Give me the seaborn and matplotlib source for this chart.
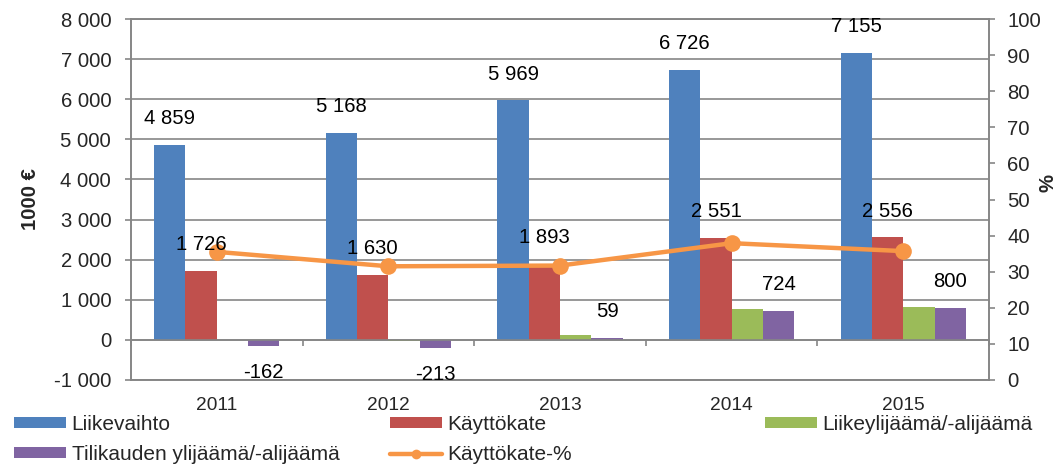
import numpy as np
import pandas as pd
import seaborn as sns
import matplotlib.pyplot as plt
from matplotlib.lines import Line2D
from matplotlib.patches import Patch

years = ["2011", "2012", "2013", "2014", "2015"]
liikevaihto = [4859, 5168, 5969, 6726, 7155]
kayttokate = [1726, 1630, 1893, 2551, 2556]
liikeylijaama = [-10, -40, 110, 770, 820]
tilikauden = [-162, -213, 59, 724, 800]
kayttokate_pct = [35.5, 31.5, 31.7, 37.9, 35.7]

series_names = ["Liikevaihto", "Käyttökate", "Liikeylijäämä/-alijäämä",
                "Tilikauden ylijäämä/-alijäämä"]
colors = ["#4F81BD", "#C0504D", "#9BBB59", "#8064A2"]
line_color = "#F79646"
grid_color = "#868686"

sns.set_theme(style="white")
plt.rcParams["font.family"] = ["Liberation Sans", "DejaVu Sans"]
FS = 14.6


def fmt(v):
    return f"{v:,}".replace(",", " ")


df = pd.DataFrame({
    "year": years * 4,
    "series": sum([[n] * len(years) for n in series_names], []),
    "value": liikevaihto + kayttokate + liikeylijaama + tilikauden,
})

fig = plt.figure(figsize=(10.59, 4.67), dpi=100)
ax = fig.add_axes([0.1237, 0.1863, 0.8103, 0.773])

sns.barplot(data=df, x="year", y="value", hue="series", palette=colors,
            width=0.73, gap=0, linewidth=0, saturation=1, legend=False, ax=ax)

ax.set_xlim(-0.5, len(years) - 0.5)
ax.set_ylim(-1000, 8000)
ax.set_yticks(np.arange(-1000, 8001, 1000))
ax.set_yticklabels([fmt(v) for v in range(-1000, 8001, 1000)], fontsize=FS)
ax.yaxis.grid(True, color=grid_color, linewidth=1.2)
ax.set_axisbelow(True)
ax.set_xlabel("")
ax.set_ylabel("1000 €", fontsize=FS, fontweight="bold")
ax.yaxis.set_label_coords(-0.106, 0.5)
ax.tick_params(axis="y", direction="out", length=4.3, color=grid_color, width=1.2, pad=10)

# category axis crosses at zero, boundary ticks only
ax.spines["bottom"].set_position(("data", 0))
for s in ["bottom", "left", "top", "right"]:
    ax.spines[s].set_color(grid_color)
    ax.spines[s].set_linewidth(1.2)
ax.set_xticks(np.arange(-0.5, len(years), 1.0))
ax.set_xticklabels([])
ax.tick_params(axis="x", direction="out", length=4.3, color=grid_color, width=1.2, bottom=True)

sec = ax.secondary_xaxis("bottom")
sec.set_xticks(range(len(years)))
sec.set_xticklabels(years, fontsize=13.8)
sec.tick_params(length=0, pad=12)
sec.spines["bottom"].set_color(grid_color)
sec.spines["bottom"].set_linewidth(1.2)

ax2 = ax.twinx()
sns.lineplot(x=np.arange(len(years)), y=kayttokate_pct, ax=ax2, color=line_color,
             linewidth=3.2, marker="o", markersize=12, markeredgewidth=0)
ax2.set_ylim(0, 100)
ax2.set_yticks(np.arange(0, 101, 10))
ax2.set_yticklabels([str(v) for v in range(0, 101, 10)], fontsize=FS)
ax2.set_ylabel("%", fontsize=FS, fontweight="bold")
ax2.yaxis.set_label_coords(1.058, 0.546)
ax2.tick_params(axis="y", direction="out", length=4.3, color=grid_color, width=1.2, pad=8.6)
for s in ax2.spines.values():
    s.set_color(grid_color)
    s.set_linewidth(1.2)

# data labels: Liikevaihto, Käyttökate, Tilikauden
for idx in [0, 1, 3]:
    for bar in ax.containers[idx]:
        h = bar.get_height()
        x = bar.get_x() + bar.get_width() / 2
        up = h >= 0
        ax2.annotate(fmt(int(round(h))), xy=(x, h), xycoords=ax.transData,
                     xytext=(0, 12 if up else -12), textcoords="offset points",
                     ha="center", va="bottom" if up else "top",
                     fontsize=FS, color="black", zorder=5)

# legend in Excel-like equal columns
handles = [Patch(facecolor=c, edgecolor="none") for c in colors]
line_handle = Line2D([], [], color=line_color, linewidth=3.2, marker="o",
                     markersize=7, markeredgewidth=0)
leg_kw = dict(frameon=False, fontsize=15, handlelength=2.5, handleheight=0.4,
              handletextpad=0.28, labelspacing=0.55, borderaxespad=0, borderpad=0,
              loc="upper left")
fig.legend([handles[0], handles[3]], [series_names[0], series_names[3]],
           bbox_to_anchor=(0.013, 0.112), **leg_kw)
fig.legend([handles[1], line_handle], [series_names[1], "Käyttökate-%"],
           bbox_to_anchor=(0.368, 0.112), **leg_kw)
fig.legend([handles[2]], [series_names[2]],
           bbox_to_anchor=(0.722, 0.112), **leg_kw)

fig.savefig("out.png", dpi=100)
